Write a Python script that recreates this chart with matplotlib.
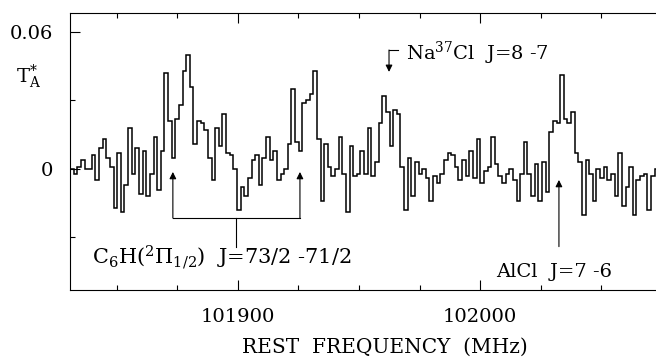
import numpy as np
import matplotlib
matplotlib.use("Agg")
import matplotlib.pyplot as plt
from matplotlib.ticker import MultipleLocator, FormatStrFormatter

plt.rcParams['font.family'] = 'DejaVu Serif'
plt.rcParams['mathtext.fontset'] = 'dejavuserif'

# spectrum: antenna temperature in mK, channels of 1.5 MHz from f_start
f_start = 101830.6
chan_width = 1.5
ta_mk = [0, -2, 1, 4, 0, 0, 6, -5, 9, 13,
         5, 1, -17, 7, -19, -7, 18, -2, 9, -11,
         8, -12, -2, 14, -9, 8, 42, 21, 5, 22,
         28, 43, 50, 36, 11, 21, 20, 17, 5, -5,
         18, 10, 24, 7, 6, 0, -18, -8, -12, -4,
         4, 6, -7, 5, 14, 4, 8, -5, -2, 0,
         11, 35, 12, 8, 29, 30, 33, 43, 13, -14,
         11, 1, -3, 0, 14, -2, -19, 10, -3, -2,
         8, -2, 18, -3, 3, 20, 32, 25, 10, 26,
         24, 1, -18, 5, -12, 3, -2, 0, -4, -14,
         -3, -6, -2, 4, 7, 6, 1, -5, 4, -3,
         8, -4, 13, -6, -1, 1, 14, 2, -3, -6,
         -2, 0, -5, -14, -2, 12, -2, -12, 2, -14,
         3, -10, 16, 21, 20, 41, 22, 20, 25, 7,
         3, -20, 4, -2, -14, 0, -4, 1, -5, -2,
         -12, 7, -16, -8, 1, -20, -5, -3, -2, -18,
         -3, 0]

# line markers (MHz)
c6h_lines = [101873.1, 101925.6]
nacl_line = 101962.4
alcl_line = 102032.6

temp = np.array(ta_mk) / 1000.0
edges = f_start + chan_width * np.arange(len(temp) + 1)

fig = plt.figure(figsize=(6.56, 3.6), dpi=100, facecolor='w')
ax = fig.add_axes([0.1067, 0.1944, 0.8933, 0.7695])

ax.stairs(temp, edges, baseline=None, color='k', linewidth=1.1)

ax.set_xlim(101830.6, 102072.7)
ax.set_ylim(-0.0530, 0.0683)

ax.spines['right'].set_visible(False)
for s in ['top', 'bottom', 'left']:
    ax.spines[s].set_linewidth(0.8)

ax.xaxis.set_major_locator(MultipleLocator(100))
ax.xaxis.set_minor_locator(MultipleLocator(25))
ax.xaxis.set_major_formatter(FormatStrFormatter('%d'))
ax.set_yticks([0, 0.06])
ax.set_yticklabels(['0', '0.06'])
ax.yaxis.set_minor_locator(MultipleLocator(0.03))
ax.tick_params(which='both', direction='in', top=True, right=False, labelsize=14)
ax.tick_params(which='major', length=7, width=0.8)
ax.tick_params(which='minor', length=3.5, width=0.8)
ax.tick_params(axis='x', pad=13)
ax.tick_params(axis='y', pad=12)

# axis label sits right of centre because the frame is cut at the right edge
fig.text(0.587, 0.036, 'REST  FREQUENCY  (MHz)', fontsize=14.5, ha='center', va='center')
fig.text(0.025, 0.77, r'T$_\mathrm{A}^{*}$', fontsize=14)

# C6H bracket with two arrows
y_tip, y_bar, y_stem = -0.0013, -0.0215, -0.034
for f in c6h_lines:
    ax.annotate('', xy=(f, y_tip), xytext=(f, y_bar),
                arrowprops=dict(arrowstyle='-|>', color='k', lw=0.8,
                                mutation_scale=10, shrinkA=0, shrinkB=0))
ax.plot(c6h_lines, [y_bar, y_bar], color='k', lw=0.8)
mid = 0.5 * (c6h_lines[0] + c6h_lines[1])
ax.plot([mid, mid], [y_bar, y_stem], color='k', lw=0.8)
ax.text(101839.7, -0.039, r'C$_6$H($^2\Pi_{1/2}$)  J=73/2 -71/2', fontsize=15,
        va='center', ha='left')

# Na37Cl
ax.plot([nacl_line, nacl_line + 3.7], [0.0521, 0.0521], color='k', lw=0.8)
ax.annotate('', xy=(nacl_line, 0.0425), xytext=(nacl_line, 0.0521),
            arrowprops=dict(arrowstyle='-|>', color='k', lw=0.8,
                            mutation_scale=10, shrinkA=0, shrinkB=0))
ax.text(101969.4, 0.0508, r'Na$^{37}$Cl  J=8 -7', fontsize=14, va='center', ha='left')

# AlCl
ax.annotate('', xy=(alcl_line, -0.0048), xytext=(alcl_line, -0.034),
            arrowprops=dict(arrowstyle='-|>', color='k', lw=0.8,
                            mutation_scale=10, shrinkA=0, shrinkB=0))
ax.text(102006.6, -0.0451, 'AlCl  J=7 -6', fontsize=14, va='center', ha='left')

fig.savefig('out.png', dpi=100)
